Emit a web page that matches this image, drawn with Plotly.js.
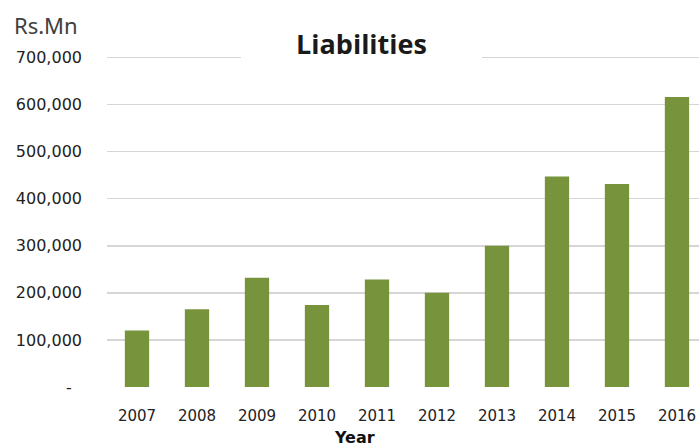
<!DOCTYPE html>
<html>
<head>
<meta charset="utf-8">
<script src="https://cdn.plot.ly/plotly-3.0.1.min.js"></script>
<style>html,body{margin:0;padding:0;background:#fff;}#chart{width:699px;height:447px;}</style>
</head>
<body>
<div id="chart"></div>
<script>
var years = ["2007","2008","2009","2010","2011","2012","2013","2014","2015","2016"];
var liabilities = [120000, 165000, 232000, 174000, 228000, 200000, 300000, 447000, 431000, 616000];
var yTickVals = [0, 100000, 200000, 300000, 400000, 500000, 600000, 700000, 800000];
var yTickText = ["-\u00a0\u00a0", "100,000", "200,000", "300,000", "400,000", "500,000", "600,000", "700,000", ""];

var L = 107, W = 592, T = 10, H = 377;
function px(x){ return (x - L) / W; }
function py(y){ return (T + H - y) / H; }

var trace = {
  type: 'bar',
  x: years,
  y: liabilities,
  marker: {color: '#77933C'},
  hoverinfo: 'x+y'
};

var layout = {
  width: 699, height: 447,
  margin: {l: L, r: 0, t: T, b: 447 - T - H},
  paper_bgcolor: '#ffffff',
  plot_bgcolor: '#ffffff',
  showlegend: false,
  bargap: 0.595,
  xaxis: {
    type: 'category',
    range: [-0.5, 9.367],
    showgrid: false, zeroline: false, showline: false, ticks: '',
    tickfont: {family: 'DejaVu Sans', size: 15, color: '#222222'},
    ticklabelstandoff: 18
  },
  yaxis: {
    range: [0, 800500],
    tickvals: yTickVals,
    ticktext: yTickText,
    showgrid: true, gridcolor: '#d6d6d6', gridwidth: 1.6,
    zeroline: false, showline: false, ticks: '',
    tickfont: {family: 'DejaVu Sans', size: 16, color: '#222222'},
    ticklabelstandoff: 24
  },
  shapes: [
    {type: 'rect', xref: 'paper', yref: 'paper', x0: px(241), x1: px(482), y0: py(75), y1: py(20),
     fillcolor: '#ffffff', line: {width: 0}, layer: 'above'},
    {type: 'rect', xref: 'paper', yref: 'paper', x0: px(0), x1: px(361), y0: py(18), y1: py(0),
     fillcolor: '#ffffff', line: {width: 0}, layer: 'above'}
  ],
  annotations: [
    {text: '<b>Liabilities</b>', xref: 'paper', yref: 'paper', x: px(361.5), y: py(44),
     xanchor: 'center', yanchor: 'middle', showarrow: false,
     font: {family: 'Open Sans', size: 27, color: '#1a1a1a'}},
    {text: 'Rs.Mn', xref: 'paper', yref: 'paper', x: px(12), y: py(25),
     xanchor: 'left', yanchor: 'middle', showarrow: false,
     font: {family: 'Noto Sans', size: 22, color: '#404040'}},
    {text: '<b>Year</b>', xref: 'paper', yref: 'paper', x: px(354), y: py(437.5),
     xanchor: 'center', yanchor: 'middle', showarrow: false,
     font: {family: 'DejaVu Sans', size: 16, color: '#111111'}}
  ]
};

Plotly.newPlot('chart', [trace], layout, {displayModeBar: false, staticPlot: true});
</script>
</body>
</html>
